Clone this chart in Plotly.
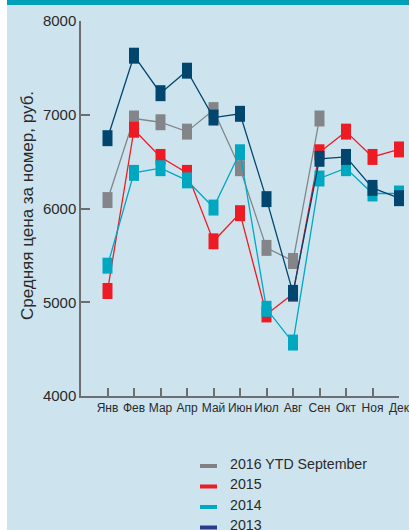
import plotly.graph_objects as go

months = ["Янв", "Фев", "Мар", "Апр", "Май", "Июн", "Июл", "Авг", "Сен", "Окт", "Ноя", "Дек"]
series_names = ["2016 YTD September", "2015", "2014", "2013"]
y2016 = [6090, 6960, 6920, 6820, 7050, 6430, 5580, 5440, 6960]
y2015 = [5120, 6840, 6550, 6380, 5650, 5950, 4870, 5090, 6600, 6820, 6550, 6630]
y2014 = [5390, 6380, 6430, 6300, 6010, 6600, 4930, 4570, 6320, 6430, 6160, 6160]
y2013 = [6750, 7630, 7230, 7470, 6970, 7010, 6100, 5100, 6530, 6550, 6220, 6110]
y_ticks = [4000, 5000, 6000, 7000, 8000]

line_colors = ["#848589", "#ED1C24", "#00A7C1", "#00466F"]
legend_colors = ["#808083", "#ED1C24", "#00A9C3", "#283C8E"]
all_series = [y2016, y2015, y2014, y2013]

FONT = "Liberation Sans, Arial, sans-serif"
TXT = "#2a2a2a"
AX = "#6D6E71"

fig = go.Figure()
for name, vals, col in zip(series_names, all_series, line_colors):
    fig.add_trace(go.Scatter(
        x=months[:len(vals)], y=vals, name=name, mode="lines+markers",
        line=dict(color=col, width=1.3),
        marker=dict(symbol="line-ns", size=11.4, color=col,
                    line=dict(color=col, width=10)),
        cliponaxis=False, showlegend=False,
    ))

# plot area in pixels: x 81..399, y 21..396
L, R, T, B = 81, 399, 21, 396
W, H = R - L, B - T


def px_x(p):
    return (p - L) / W


def px_y(p):
    return (B - p) / H


shapes = [
    dict(type="rect", xref="paper", yref="paper", x0=px_x(7), x1=px_x(409),
         y0=px_y(530), y1=px_y(5), fillcolor="#CDE4EF", line_width=0, layer="below"),
    dict(type="rect", xref="paper", yref="paper", x0=px_x(7), x1=px_x(409),
         y0=px_y(5), y1=px_y(0), fillcolor="#00A0B8", line_width=0, layer="below"),
]
annotations = []
text_centers = [463.5, 484, 504.5, 525]
for name, col, tc in zip(series_names, legend_colors, text_centers):
    shapes.append(dict(type="rect", xref="paper", yref="paper",
                       x0=px_x(200), x1=px_x(217), y0=px_y(tc + 4.5), y1=px_y(tc + 0.5),
                       fillcolor=col, line_width=0))
    annotations.append(dict(xref="paper", yref="paper", x=px_x(228), y=px_y(tc),
                            xanchor="left", yanchor="middle", showarrow=False,
                            text=name, font=dict(family=FONT, size=14.2, color=TXT)))

annotations.append(dict(xref="paper", yref="paper", x=px_x(28), y=px_y(206),
                        xanchor="center", yanchor="middle", showarrow=False,
                        textangle=-90, text="Средняя цена за номер, руб.",
                        font=dict(family=FONT, size=17, color=TXT)))

fig.update_layout(
    width=409, height=530,
    margin=dict(l=L, r=409 - R, t=T, b=530 - B),
    paper_bgcolor="white", plot_bgcolor="rgba(0,0,0,0)",
    shapes=shapes, annotations=annotations, showlegend=False,
    xaxis=dict(type="category", categoryorder="array", categoryarray=months,
               range=[-1, 11], showgrid=False, zeroline=False, automargin=False,
               tickangle=0,
               showline=True, linecolor=AX, linewidth=1.5,
               ticks="inside", ticklen=8, tickwidth=1.5, tickcolor=AX,
               tickfont=dict(family=FONT, size=12, color=TXT)),
    yaxis=dict(range=[4000, 8000], tickvals=y_ticks, showgrid=False, zeroline=False,
               automargin=False,
               showline=True, linecolor=AX, linewidth=1.5,
               ticks="inside", ticklen=9, tickwidth=1.5, tickcolor=AX,
               tickfont=dict(family=FONT, size=15, color=TXT)),
)

fig.write_html(
    "out.html",
    config={"displayModeBar": False},
    post_script="document.body.style.margin='0';document.body.style.padding='0';"
                "document.body.style.overflow='hidden';",
)
